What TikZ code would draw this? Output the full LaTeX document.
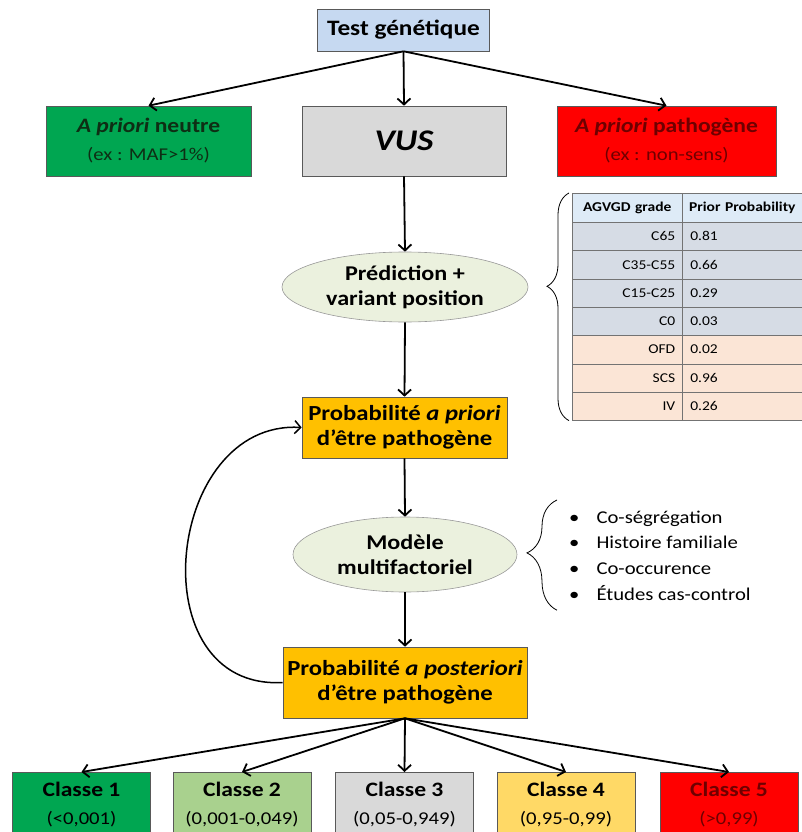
\documentclass[tikz,border=0pt]{standalone}
\usepackage{fontspec}
\setmainfont{Carlito}[FakeStretch=1.15]
\usetikzlibrary{arrows.meta,shapes.geometric,decorations.pathreplacing}
\definecolor{bleuclair}{HTML}{C6D9F1}
\definecolor{vertvif}{HTML}{00A651}
\definecolor{vertclair}{HTML}{A9D18E}
\definecolor{grisclair}{HTML}{D9D9D9}
\definecolor{rougevif}{HTML}{FF0000}
\definecolor{orangeprob}{HTML}{FFC000}
\definecolor{jaune}{HTML}{FFD966}
\definecolor{ovalevert}{HTML}{EBF1DE}
\definecolor{rougefonce}{HTML}{6E0000}
\definecolor{vertfonce}{HTML}{0E2E14}
\definecolor{entete}{HTML}{DEEBF7}
\definecolor{lignebleu}{HTML}{D6DCE5}
\definecolor{ligneorange}{HTML}{FBE5D6}
\newcommand{\titrefont}{\fontsize{20.5}{28}\selectfont\bfseries}
\newcommand{\sousfont}{\fontsize{18}{28}\selectfont}

\begin{document}
\begin{tikzpicture}[x=1pt, y=-1pt, >={Straight Barb[length=6pt,width=13pt]},
	boite/.style={draw=black!65, line width=0.6pt, minimum height=70pt, inner sep=2pt, align=center},
	ovale/.style={ellipse, draw=black!40, fill=ovalevert, line width=0.6pt, inner sep=0pt, align=center, font=\fontsize{21}{25}\selectfont\bfseries},
	proba/.style={boite, fill=orangeprob, font=\fontsize{21.5}{24.5}\selectfont\bfseries},
	fleche/.style={->, line width=1.8pt},
	cellg/.style={draw=black!55, line width=0.5pt, minimum width=110pt, minimum height=28.3pt, text width=96pt, inner sep=0pt, align=right, font=\fontsize{13.5}{15}\selectfont},
	celld/.style={draw=black!55, line width=0.5pt, minimum width=120pt, minimum height=28.3pt, text width=104pt, inner sep=0pt, align=left, font=\fontsize{13.5}{15}\selectfont},
	accolade/.style={decorate, line width=0.8pt}]
	\useasboundingbox (0,0) rectangle (802,832);
	\node[boite, fill=bleuclair, minimum width=172pt, minimum height=42pt, font=\fontsize{22}{26}\selectfont\bfseries] (test) at (403.5,30) {Test génétique};
	\node[boite, fill=vertvif, text=vertfonce, minimum width=205pt, font=\sousfont] (neutre) at (148.5,141) {{\titrefont\textit{A priori} neutre}\\(ex : MAF>1\%)};
	\node[boite, fill=grisclair, minimum width=204pt, font=\fontsize{30}{32}\selectfont\bfseries\itshape] (vus) at (404,141) {VUS};
	\node[boite, fill=rougevif, text=rougefonce, minimum width=219pt, font=\sousfont] (patho) at (666.5,141) {{\titrefont\textit{A priori} pathogène}\\(ex : non-sens)};
	\node[ovale, minimum width=246pt, minimum height=70pt] (pred) at (405,287) {Prédiction +\\variant position};
	\node[proba, minimum width=205pt, minimum height=61pt] (priori) at (404.5,427.5) {Probabilité \textit{a priori}\\d’être pathogène};
	\node[ovale, minimum width=224pt, minimum height=75pt] (modele) at (405,554.5) {Modèle\\multifactoriel};
	\node[proba, minimum width=244pt, minimum height=71pt] (post) at (405,682.5) {Probabilité \textit{a posteriori}\\d’être pathogène};
	\foreach \nom/\coul/\encre/\txt/\val/\x in {c1/vertvif/black/Classe 1/(<0{,}001)/81.5, c2/vertclair/black/Classe 2/(0{,}001-0{,}049)/242, c3/grisclair/black/Classe 3/(0{,}05-0{,}949)/404.5, c4/jaune/black/Classe 4/(0{,}95-0{,}99)/566, c5/rougevif/rougefonce/Classe 5/(>0{,}99)/729}
		\node[boite, fill=\coul, text=\encre, minimum width=138pt, minimum height=64pt, font=\sousfont, anchor=north] (\nom) at (\x,772) {{\titrefont \txt}\\\val};
	\node[cellg, fill=entete, align=center, font=\fontsize{13.5}{15}\selectfont\bfseries, minimum height=29pt, anchor=north west] (g0) at (572,193) {AGVGD grade};
	\node[celld, fill=entete, text width=118pt, align=center, font=\fontsize{13.5}{15}\selectfont\bfseries, minimum height=29pt, anchor=north west] (p0) at (682,193) {Prior Probability};
	\foreach \g/\p/\coul [count=\i] in {C65/0.81/lignebleu, C35-C55/0.66/lignebleu, C15-C25/0.29/lignebleu, C0/0.03/lignebleu, OFD/0.02/ligneorange, SCS/0.96/ligneorange, IV/0.26/ligneorange}{
		\node[cellg, fill=\coul, anchor=north west] (g\i) at (572,222+28.3*\i-28.3) {\g};
		\node[celld, fill=\coul, anchor=north west] (p\i) at (682,222+28.3*\i-28.3) {\p};
	}
	\node[anchor=north west, inner sep=0pt, font=\fontsize{18}{25.7}\selectfont] (facteurs) at (569,505) {\begin{tabular}{@{}l@{\hspace{17pt}}l@{}}\textbullet & Co-ségrégation\\ \textbullet & Histoire familiale\\ \textbullet & Co-occurence\\ \textbullet & Études cas-control\end{tabular}};
	\draw[fleche] (test.south) -- (neutre.north);
	\draw[fleche] (test.south) -- (vus.north);
	\draw[fleche] (test.south) -- (patho.north);
	\draw[fleche] (vus.south) -- (pred.north);
	\draw[fleche] (pred.south) -- (priori.north);
	\draw[fleche] (priori.south) -- (modele.north);
	\draw[fleche] (modele.south) -- (post.north);
	\foreach \nom in {c1,c2,c3,c4,c5}
		\draw[fleche] (post.south) -- (\nom.north);
	\draw[->, line width=1.5pt] (post.west) .. controls +(-145,8) and +(-137,-8) .. (priori.west);
	\draw[accolade, decoration={brace, amplitude=22pt, aspect=0.59}] ([xshift=-3pt]g7.south west) -- ([xshift=-3pt]g0.north west);
	\draw[accolade, decoration={brace, amplitude=30pt, aspect=0.52}] ([xshift=-12pt,yshift=-2pt]facteurs.south west) -- ([xshift=-12pt,yshift=5pt]facteurs.north west);
\end{tikzpicture}
\end{document}
